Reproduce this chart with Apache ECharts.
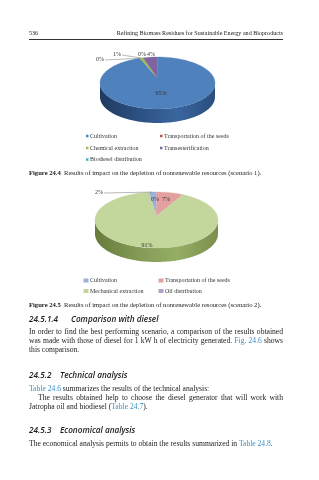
<!DOCTYPE html>
<html>
<head>
<meta charset="utf-8">
<script src="https://cdn.jsdelivr.net/npm/echarts/dist/echarts.min.js"></script>
<style>
html, body { margin: 0; padding: 0; background: #fff; }
.page { position: relative; width: 319px; height: 480px; overflow: hidden; }
#chart { position: absolute; left: 0; top: 0; width: 319px; height: 480px; }
.t { position: absolute; white-space: nowrap; color: #1a1a1a; font-family: 'Liberation Serif', serif; pointer-events: none; }
.body { font-size: 7.6px; line-height: 9px; height: 9px; }
.just { width: 254px; text-align: justify; text-align-last: justify; white-space: normal; }
.cap { font-size: 6.6px; line-height: 8px; }
.hdr { font-size: 6.1px; line-height: 8px; }
.hd { font-family: 'Open Sans', sans-serif; font-style: italic; font-weight: 600; font-size: 8.2px; line-height: 10px; }
a { color: #3a90c4; text-decoration: none; }
</style>
</head>
<body>
<div class="page">
  <div id="chart"></div>

  <div class="t hdr" style="left:29px; top:29px;">536</div>
  <div class="t hdr" style="right:36px; top:29px;">Refining Biomass Residues for Sustainable Energy and Bioproducts</div>
  <div style="position:absolute; left:29px; top:39px; width:254px; height:1px; background:#333;"></div>

  <div class="t cap" style="left:29px; top:169px;"><b>Figure 24.4</b>&nbsp; Results of impact on the depletion of nonrenewable resources (scenario 1).</div>
  <div class="t cap" style="left:29px; top:301px;"><b>Figure 24.5</b>&nbsp; Results of impact on the depletion of nonrenewable resources (scenario 2).</div>

  <div class="t hd" style="left:29px; top:314px;">24.5.1.4</div>
  <div class="t hd" style="left:71px; top:314px;">Comparison with diesel</div>
  <div class="t body just" style="left:29px; top:327px;">In order to find the best performing scenario, a comparison of the results obtained</div>
  <div class="t body just" style="left:29px; top:336px;">was made with those of diesel for 1 kW h of electricity generated. <a>Fig. 24.6</a> shows</div>
  <div class="t body" style="left:29px; top:345px;">this comparison.</div>

  <div class="t hd" style="left:29px; top:370px;">24.5.2</div>
  <div class="t hd" style="left:60px; top:370px;">Technical analysis</div>
  <div class="t body" style="left:29px; top:383.5px;"><a>Table 24.6</a> summarizes the results of the technical analysis:</div>
  <div class="t body just" style="left:38px; top:392.5px; width:245px;">The results obtained help to choose the diesel generator that will work with</div>
  <div class="t body" style="left:29px; top:401.5px;">Jatropha oil and biodiesel (<a>Table 24.7</a>).</div>

  <div class="t hd" style="left:29px; top:425px;">24.5.3</div>
  <div class="t hd" style="left:60px; top:425px;">Economical analysis</div>
  <div class="t body" style="left:29px; top:438.5px;">The economical analysis permits to obtain the results summarized in <a>Table 24.8</a>.</div>
</div>

<script>
// scenario 1 (Figure 24.4)
var names1 = ['Cultivation', 'Transportation of the seeds', 'Chemical extraction', 'Transesterification', 'Biodiesel distribution'];
var values1 = [95, 0, 1, 4, 0];

// scenario 2 (Figure 24.5)
var names2 = ['Cultivation', 'Transportation of the seeds', 'Mechanical extraction', 'Oil distribution'];
var values2 = [2, 7, 91, 0];

var serif = "'Liberation Serif', serif";

// look of each pie
var pie1 = {
    cx: 157.5, cy: 83, rx: 57.5, ry: 26, depth: 14, lift: 5, start: 0,
    colors: ['#4f81bd', '#c0504d', '#9bbb59', '#8064a2', '#4bacc6'],
    sides: [['#1f3a5f', '#2b5081', '#3a669f', '#2a4e7c'], ['#8c3532'], ['#71893d'], ['#5c4878'], ['#2f8196']],
    labelPos: [[161, 93], [100, 59], [117, 54], [151, 54], [142, 54]],
    leader: [false, true, true, false, false]
};
var pie2 = {
    cx: 156.5, cy: 220, rx: 61.5, ry: 28, depth: 14, lift: 4, start: -7.2,
    colors: ['#9fafdc', '#e3a09f', '#c3d69b', '#b3a2c7'],
    sides: [['#7584b3'], ['#b67474'], ['#677a3b', '#829955', '#95ae64', '#7a8f4b'], ['#8a7aa0']],
    labelPos: [[99, 192], [166, 199], [147, 245], [155, 199]],
    leader: [true, false, false, false]
};

function rimPoint(p, deg, dy) {
    var r = deg * Math.PI / 180;
    return [p.cx + p.rx * Math.sin(r), p.cy - p.ry * Math.cos(r) + (dy || 0)];
}

function arcPoints(p, a0, a1, dy) {
    var pts = [];
    var n = Math.max(2, Math.ceil(Math.abs(a1 - a0) / 2));
    for (var k = 0; k <= n; k++) pts.push(rimPoint(p, a0 + (a1 - a0) * k / n, dy));
    return pts;
}

function sideFill(p, stops) {
    if (stops.length === 1) return stops[0];
    var s = stops.map(function (c, i) { return { offset: i / (stops.length - 1), color: c }; });
    return new echarts.graphic.LinearGradient(p.cx - p.rx, 0, p.cx + p.rx, 0, s, true);
}

function makeRender(p, values) {
    var total = values.reduce(function (a, b) { return a + b; }, 0);
    return function (params, api) {
        var i = params.dataIndex;
        var before = 0;
        for (var k = 0; k < i; k++) before += values[k];
        var a0 = p.start + before / total * 360;
        var a1 = a0 + values[i] / total * 360;
        var children = [];

        if (a1 > a0) {
            // side wall, only the front half is seen
            for (var w = -1; w <= 1; w++) {
                var f0 = Math.max(a0, 90 + 360 * w), f1 = Math.min(a1, 270 + 360 * w);
                if (f1 > f0) {
                    var top = arcPoints(p, f0, f1, 0);
                    var bot = arcPoints(p, f0, f1, p.depth).reverse();
                    children.push({
                        type: 'polygon', z2: 1,
                        shape: { points: top.concat(bot) },
                        style: { fill: sideFill(p, p.sides[i]) }
                    });
                }
            }
            var face = [[p.cx, p.cy - p.lift]].concat(arcPoints(p, a0, a1, 0));
            children.push({
                type: 'polygon', z2: 2,
                shape: { points: face },
                style: { fill: p.colors[i], stroke: p.colors[i], lineWidth: 0.3 }
            });
        }

        var lp = p.labelPos[i];
        if (p.leader[i]) {
            var mid = rimPoint(p, (a0 + a1) / 2, 0);
            children.push({
                type: 'polyline', z2: 5,
                shape: { points: [[lp[0] + 5, lp[1] + 1], mid] },
                style: { stroke: '#8a8a8a', lineWidth: 0.6, fill: null }
            });
        }
        children.push({
            type: 'text', z2: 6,
            style: {
                x: lp[0], y: lp[1], text: values[i] + '%',
                font: '6px ' + serif, fill: '#333',
                align: 'center', verticalAlign: 'middle'
            }
        });
        return { type: 'group', children: children };
    };
}

function legend(names, colors, cols, rows, mark) {
    var out = [];
    names.forEach(function (n, i) {
        var x = cols[i % 2], y = rows[Math.floor(i / 2)];
        out.push({
            type: 'rect', silent: true,
            shape: { x: x - mark[0] - 1.5, y: y - mark[1] / 2, width: mark[0], height: mark[1] },
            style: { fill: colors[i] }
        });
        out.push({
            type: 'text', silent: true,
            style: { x: x, y: y, text: n, font: '6px ' + serif, fill: '#333', verticalAlign: 'middle' }
        });
    });
    return out;
}

var chart = echarts.init(document.getElementById('chart'), null, { renderer: 'canvas' });
chart.setOption({
    animation: false,
    series: [
        {
            type: 'custom', coordinateSystem: 'none', silent: true,
            data: values1, renderItem: makeRender(pie1, values1)
        },
        {
            type: 'custom', coordinateSystem: 'none', silent: true,
            data: values2, renderItem: makeRender(pie2, values2)
        }
    ],
    graphic: legend(names1, pie1.colors, [90, 164], [136, 148, 159.5], [2.5, 2.5])
        .concat(legend(names2, pie2.colors, [90, 165], [280.5, 291], [5, 4]))
});
</script>
</body>
</html>
